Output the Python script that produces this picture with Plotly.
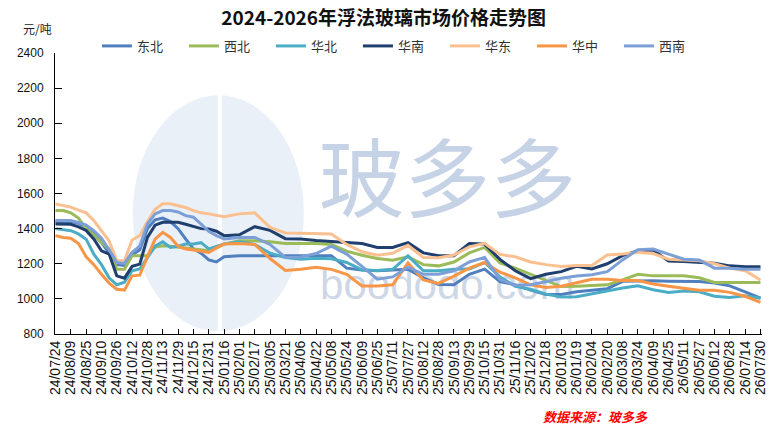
# @title Prezzi vetro float 2024-2026
import pandas as pd
import plotly.graph_objects as go

# date dei punti (ogni 8 giorni fino a gennaio 2025, poi ogni 16)
date = ["2024-07-24", "2024-08-01", "2024-08-09", "2024-08-17", "2024-08-25", "2024-09-02",
        "2024-09-10", "2024-09-18", "2024-09-26", "2024-10-04", "2024-10-12", "2024-10-20",
        "2024-10-28", "2024-11-05", "2024-11-13", "2024-11-21", "2024-11-29", "2024-12-07",
        "2024-12-15", "2024-12-23", "2024-12-31", "2025-01-08", "2025-01-16",
        "2025-02-01", "2025-02-17", "2025-03-05", "2025-03-21", "2025-04-06", "2025-04-22",
        "2025-05-08", "2025-05-24", "2025-06-09", "2025-06-25", "2025-07-11", "2025-07-27",
        "2025-08-12", "2025-08-28", "2025-09-13", "2025-09-29", "2025-10-15", "2025-10-31",
        "2025-11-16", "2025-12-02", "2025-12-18", "2026-01-03", "2026-01-19", "2026-02-04",
        "2026-02-20", "2026-03-08", "2026-03-24", "2026-04-09", "2026-04-25", "2026-05-11",
        "2026-05-27", "2026-06-12", "2026-06-28", "2026-07-14", "2026-07-30"]

dongbei = [1440, 1440, 1440, 1430, 1410, 1370, 1320, 1260, 1195, 1190, 1250, 1280, 1400, 1450,
           1460, 1440, 1400, 1340, 1285, 1260, 1222, 1210, 1240,
           1246, 1246, 1246, 1246, 1246, 1246, 1246, 1175, 1165, 1160, 1165, 1169, 1120, 1082,
           1080, 1140, 1169, 1098, 1080, 1050, 1025, 1025, 1040, 1048, 1058, 1100, 1103, 1103,
           1101, 1099, 1099, 1090, 1074, 1040, 1004]

xibei = [1503, 1503, 1490, 1460, 1400, 1365, 1320, 1285, 1169, 1169, 1246, 1246, 1246, 1295,
         1303, 1300, 1293, 1290, 1284, 1280, 1274, 1290, 1312,
         1331, 1331, 1325, 1316, 1316, 1316, 1310, 1272, 1248, 1230, 1220, 1240, 1195, 1188,
         1210, 1262, 1293, 1205, 1175, 1141, 1108, 1070, 1072, 1078, 1080, 1108, 1140, 1131,
         1131, 1131, 1120, 1093, 1093, 1093, 1093]

huabei = [1400, 1395, 1388, 1370, 1340, 1255, 1195, 1120, 1080, 1095, 1160, 1170, 1236, 1300,
          1325, 1293, 1300, 1312, 1312, 1320, 1285, 1300, 1312,
          1325, 1310, 1260, 1236, 1226, 1232, 1228, 1207, 1165, 1162, 1168, 1245, 1160, 1160,
          1168, 1170, 1207, 1125, 1072, 1055, 1027, 1010, 1012, 1030, 1048, 1062, 1074, 1052,
          1036, 1045, 1040, 1015, 1008, 1018, 1004]

huanan = [1427, 1427, 1425, 1410, 1390, 1341, 1274, 1255, 1131, 1118, 1185, 1198, 1350, 1420,
          1436, 1436, 1436, 1425, 1411, 1400, 1398, 1385, 1360,
          1365, 1411, 1390, 1343, 1341, 1333, 1327, 1322, 1315, 1293, 1293, 1320, 1262, 1246,
          1246, 1315, 1312, 1225, 1160, 1115, 1140, 1155, 1185, 1170, 1200, 1246, 1274, 1278,
          1215, 1213, 1207, 1203, 1188, 1183, 1183]

huadong = [1541, 1530, 1522, 1505, 1490, 1446, 1390, 1330, 1217, 1217, 1335, 1360, 1440, 1510,
           1541, 1541, 1530, 1520, 1503, 1490, 1484, 1475, 1468,
           1484, 1490, 1407, 1375, 1373, 1373, 1369, 1310, 1268, 1248, 1260, 1305, 1235, 1234,
           1250, 1296, 1316, 1253, 1240, 1210, 1195, 1185, 1190, 1190, 1250, 1255, 1265, 1258,
           1226, 1221, 1217, 1200, 1175, 1160, 1107]

huazhong = [1360, 1350, 1345, 1315, 1240, 1195, 1140, 1090, 1055, 1050, 1131, 1135, 1240, 1340,
            1379, 1350, 1300, 1284, 1278, 1270, 1265, 1290, 1312,
            1316, 1310, 1230, 1162, 1169, 1180, 1168, 1140, 1074, 1074, 1080, 1205, 1108, 1088,
            1130, 1175, 1207, 1152, 1120, 1080, 1065, 1072, 1092, 1112, 1112, 1105, 1105, 1085,
            1072, 1060, 1049, 1049, 1037, 1015, 980]

xinan = [1446, 1446, 1446, 1435, 1420, 1388, 1345, 1280, 1207, 1202, 1265, 1300, 1427, 1484,
         1503, 1503, 1495, 1474, 1465, 1425, 1385, 1360, 1341,
         1350, 1350, 1310, 1236, 1238, 1258, 1300, 1255, 1185, 1112, 1125, 1180, 1140, 1140,
         1160, 1210, 1236, 1110, 1078, 1080, 1098, 1118, 1130, 1138, 1155, 1222, 1280, 1284,
         1255, 1226, 1222, 1175, 1175, 1169, 1169]

# etichette dell'asse x (ogni 16 giorni)
tick_labels = ["24/07/24", "24/08/09", "24/08/25", "24/09/10", "24/09/26", "24/10/12", "24/10/28",
               "24/11/13", "24/11/29", "24/12/15", "24/12/31", "25/01/16", "25/02/01", "25/02/17",
               "25/03/05", "25/03/21", "25/04/06", "25/04/22", "25/05/08", "25/05/24", "25/06/09",
               "25/06/25", "25/07/11", "25/07/27", "25/08/12", "25/08/28", "25/09/13", "25/09/29",
               "25/10/15", "25/10/31", "25/11/16", "25/12/02", "25/12/18", "26/01/03", "26/01/19",
               "26/02/04", "26/02/20", "26/03/08", "26/03/24", "26/04/09", "26/04/25", "26/05/11",
               "26/05/27", "26/06/12", "26/06/28", "26/07/14", "26/07/30"]

serie = [
    ("东北", dongbei, "#4F7FBE"),
    ("西北", xibei, "#9BBB59"),
    ("华北", huabei, "#4BACC6"),
    ("华南", huanan, "#1F3F6E"),
    ("华东", huadong, "#FAC090"),
    ("华中", huazhong, "#F79646"),
    ("西南", xinan, "#7B9FD6"),
]

x = pd.to_datetime(date)
tick_vals = pd.to_datetime(tick_labels, format="%y/%m/%d")

fig = go.Figure()

# Aggiungi le linee
for nome, valori, colore in serie:
    fig.add_trace(go.Scatter(x=x, y=valori, mode='lines', name=nome,
                             line=dict(color=colore, width=3)))

# filigrana (logo sotto le linee)
fig.add_shape(type="circle", xref="paper", yref="paper", x0=0.11, x1=0.352, y0=0.01, y1=0.85,
              fillcolor="rgba(190,208,232,0.33)", line=dict(width=0), layer="below")
fig.add_shape(type="line", xref="paper", yref="paper", x0=0.233, x1=0.233, y0=0.0, y1=0.86,
              line=dict(color="white", width=4), layer="below")
fig.add_shape(type="rect", xref="paper", yref="paper", x0=0.39, x1=0.72, y0=0.3, y1=0.74,
              fillcolor="rgba(0,0,0,0)", line=dict(width=0), layer="below",
              label=dict(text="玻多多", font=dict(family="Noto Sans CJK SC", size=86,
                                                color="rgba(160,180,212,0.6)")))
fig.add_shape(type="rect", xref="paper", yref="paper", x0=0.39, x1=0.72, y0=0.08, y1=0.3,
              fillcolor="rgba(0,0,0,0)", line=dict(width=0), layer="below",
              label=dict(text="boododo.com", font=dict(family="Liberation Sans", size=42,
                                                     color="rgba(190,202,222,0.75)")))

# testi extra
fig.add_annotation(text="元/吨", xref="paper", yref="paper", x=-0.048, y=1.125,
                   showarrow=False, font=dict(family="Noto Sans CJK SC", size=12, color="#222"))
fig.add_annotation(text="<b><i>数据来源：玻多多</i></b>", xref="paper", yref="paper",
                   x=0.842, y=-0.335, showarrow=False,
                   font=dict(family="Noto Sans CJK SC", size=13, color="#FF0000"))

# Aggiorna il layout
fig.update_layout(
    width=772, height=442,
    margin=dict(l=55, r=10, t=53, b=108, autoexpand=False),
    paper_bgcolor="white", plot_bgcolor="rgba(0,0,0,0)",
    title=dict(text="<b>2024-2026年浮法玻璃市场价格走势图</b>", x=0.497, xref="container",
               y=0.958, yref="container", yanchor="middle",
               font=dict(family="Noto Sans CJK SC", size=19, color="#111")),
    legend=dict(orientation="h", xref="container", yref="container", x=0.52, xanchor="center",
                y=0.896, yanchor="middle", entrywidth=42, entrywidthmode="pixels",
                font=dict(family="Noto Sans CJK SC", size=13, color="#333"),
                bgcolor="rgba(0,0,0,0)"),
    showlegend=True,
)

fig.update_xaxes(type="date", range=["2024-07-23 12:00", "2026-07-31 14:00"],
                 tickvals=tick_vals, ticktext=tick_labels, tickangle=-90,
                 ticks="inside", ticklen=5, tickcolor="black", automargin=False,
                 ticklabeloverflow="allow",
                 showline=True, linecolor="black", linewidth=1, showgrid=False, zeroline=False,
                 tickfont=dict(family="Liberation Sans", size=14, color="#111"))
fig.update_yaxes(range=[800, 2400], dtick=200, ticks="inside", ticklen=7, tickcolor="black",
                 showline=True, linecolor="black", linewidth=1, showgrid=False, zeroline=False,
                 ticklabelstandoff=8, automargin=False,
                 tickfont=dict(family="Liberation Sans", size=12, color="#111"))

# niente margine della pagina, cosi il grafico sta tutto nella finestra
fig.write_html("out.html", config={"displayModeBar": False},
               post_script="document.body.style.margin='0';document.body.style.overflow='hidden';")
